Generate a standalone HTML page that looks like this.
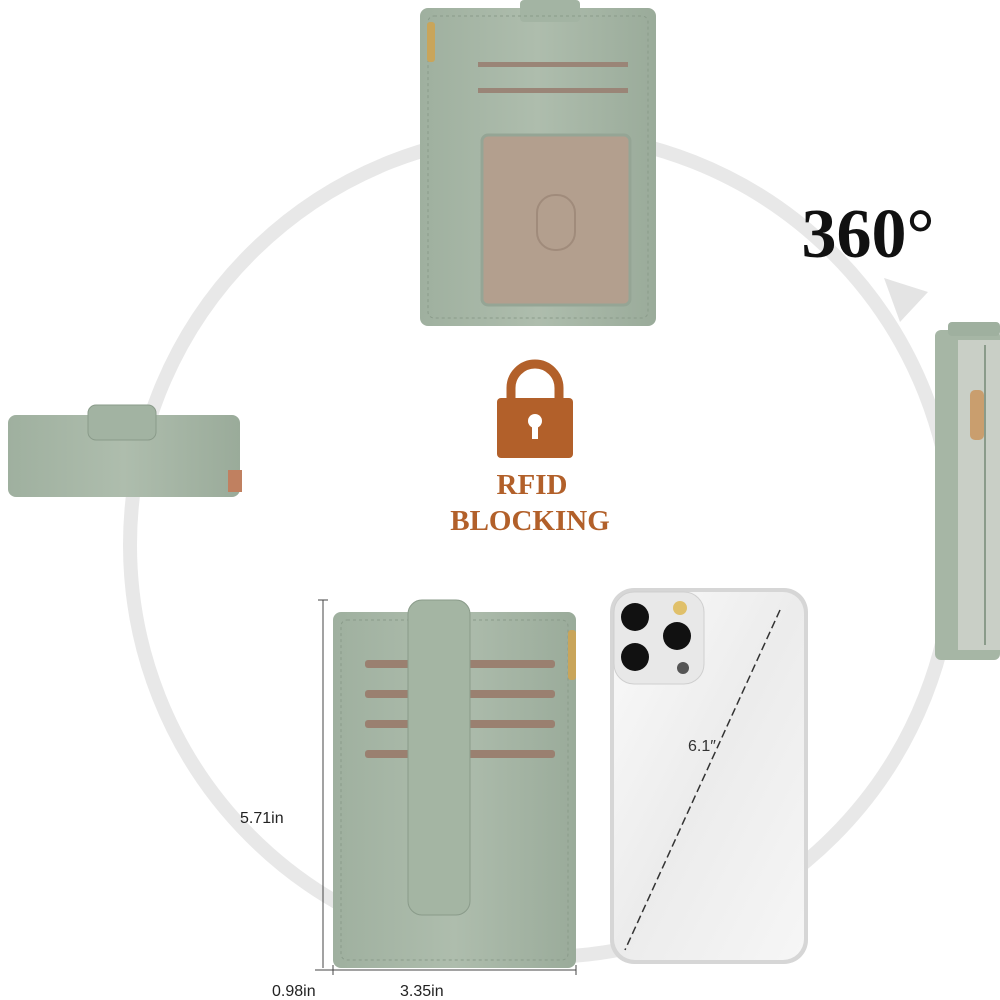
<!DOCTYPE html>
<html><head><meta charset="utf-8"><style>
html,body{margin:0;padding:0;background:#fff;width:1000px;height:1000px;overflow:hidden}
svg{display:block}
</style></head><body>
<svg width="1000" height="1000" viewBox="0 0 1000 1000" xmlns="http://www.w3.org/2000/svg">
<defs>
<linearGradient id="ph" x1="0" y1="0" x2="1" y2="1"><stop offset="0" stop-color="#fafafa"/><stop offset="0.5" stop-color="#ececec"/><stop offset="1" stop-color="#f6f6f6"/></linearGradient>
<linearGradient id="gr" x1="0" y1="0" x2="1" y2="0"><stop offset="0" stop-color="#9fb09f"/><stop offset="0.5" stop-color="#aebdad"/><stop offset="1" stop-color="#9aab9a"/></linearGradient>
</defs>
<circle cx="542" cy="545" r="412" fill="none" stroke="#e8e8e8" stroke-width="14"/>
<polygon points="884,278 928,292 900,322" fill="#e4e4e4"/>
<text x="868" y="257" font-family="Liberation Serif, serif" font-weight="bold" font-size="70" text-anchor="middle" fill="#111">360°</text>

<rect x="420" y="8" width="236" height="318" rx="8" fill="url(#gr)"/>
<rect x="520" y="0" width="60" height="22" rx="4" fill="#a3b4a3"/>
<rect x="428" y="16" width="220" height="302" rx="6" fill="none" stroke="#8a9b8a" stroke-dasharray="3 3"/>
<rect x="478" y="62" width="150" height="5" fill="#9a8577"/>
<rect x="478" y="88" width="150" height="5" fill="#9a8577"/>
<rect x="482" y="135" width="148" height="170" rx="6" fill="#b39f8e" stroke="#95a595" stroke-width="3"/>
<rect x="537" y="195" width="38" height="55" rx="18" fill="none" stroke="#a08b7b" stroke-width="2"/>
<rect x="427" y="22" width="8" height="40" rx="3" fill="#c9a55a"/>

<rect x="8" y="415" width="232" height="82" rx="8" fill="url(#gr)"/>
<rect x="88" y="405" width="68" height="35" rx="8" fill="#a2b3a2" stroke="#8a9b8a"/>
<rect x="228" y="470" width="14" height="22" fill="#c08060"/>

<rect x="935" y="330" width="65" height="330" rx="6" fill="#a6b6a5"/>
<rect x="958" y="340" width="42" height="310" fill="#c9cfc6"/>
<line x1="985" y1="345" x2="985" y2="645" stroke="#8a9b8a" stroke-width="2"/>
<rect x="970" y="390" width="14" height="50" rx="5" fill="#c99e6e"/>
<rect x="948" y="322" width="52" height="14" rx="4" fill="#9fb09f"/>

<path d="M511 402 v-14 a24 24 0 0 1 48 0 v14" fill="none" stroke="#b2602a" stroke-width="9"/>
<rect x="497" y="398" width="76" height="60" rx="4" fill="#b2602a"/>
<circle cx="535" cy="421" r="7" fill="#fff"/>
<rect x="532" y="423" width="6" height="16" fill="#fff"/>
<text x="532" y="494" font-family="Liberation Serif, serif" font-weight="bold" font-size="29" text-anchor="middle" fill="#b2602a">RFID</text>
<text x="530" y="530" font-family="Liberation Serif, serif" font-weight="bold" font-size="29" text-anchor="middle" fill="#b2602a">BLOCKING</text>

<rect x="333" y="612" width="243" height="356" rx="8" fill="url(#gr)"/>
<rect x="341" y="620" width="227" height="340" rx="6" fill="none" stroke="#8a9b8a" stroke-dasharray="3 3"/>
<rect x="365" y="660" width="190" height="8" rx="3" fill="#9a8070"/>
<rect x="365" y="690" width="190" height="8" rx="3" fill="#9a8070"/>
<rect x="365" y="720" width="190" height="8" rx="3" fill="#9a8070"/>
<rect x="365" y="750" width="190" height="8" rx="3" fill="#9a8070"/>
<rect x="408" y="600" width="62" height="315" rx="14" fill="#a4b5a3" stroke="#8a9b8a"/>
<rect x="568" y="630" width="8" height="50" rx="3" fill="#c9a55a"/>

<rect x="610" y="588" width="198" height="376" rx="24" fill="#d6d6d6"/>
<rect x="614" y="592" width="190" height="368" rx="21" fill="url(#ph)"/>
<rect x="614" y="592" width="90" height="92" rx="20" fill="#e8e8e8" stroke="#cfcfcf"/>
<circle cx="635" cy="617" r="14" fill="#111"/>
<circle cx="677" cy="636" r="14" fill="#111"/>
<circle cx="635" cy="657" r="14" fill="#111"/>
<circle cx="680" cy="608" r="7" fill="#e0c06a"/>
<circle cx="683" cy="668" r="6" fill="#555"/>
<line x1="780" y1="610" x2="625" y2="950" stroke="#333" stroke-width="1.5" stroke-dasharray="8 4"/>
<text x="688" y="751" font-family="Liberation Sans, sans-serif" font-size="16" fill="#333">6.1″</text>

<line x1="323" y1="600" x2="323" y2="968" stroke="#444"/>
<line x1="318" y1="600" x2="328" y2="600" stroke="#444"/>
<line x1="315" y1="970" x2="576" y2="970" stroke="#444"/>
<line x1="333" y1="965" x2="333" y2="975" stroke="#444"/>
<line x1="576" y1="965" x2="576" y2="975" stroke="#444"/>
<text x="240" y="823" font-family="Liberation Sans, sans-serif" font-size="16" fill="#222">5.71in</text>
<text x="272" y="996" font-family="Liberation Sans, sans-serif" font-size="16" fill="#222">0.98in</text>
<text x="400" y="996" font-family="Liberation Sans, sans-serif" font-size="16" fill="#222">3.35in</text>
</svg>
</body></html>
